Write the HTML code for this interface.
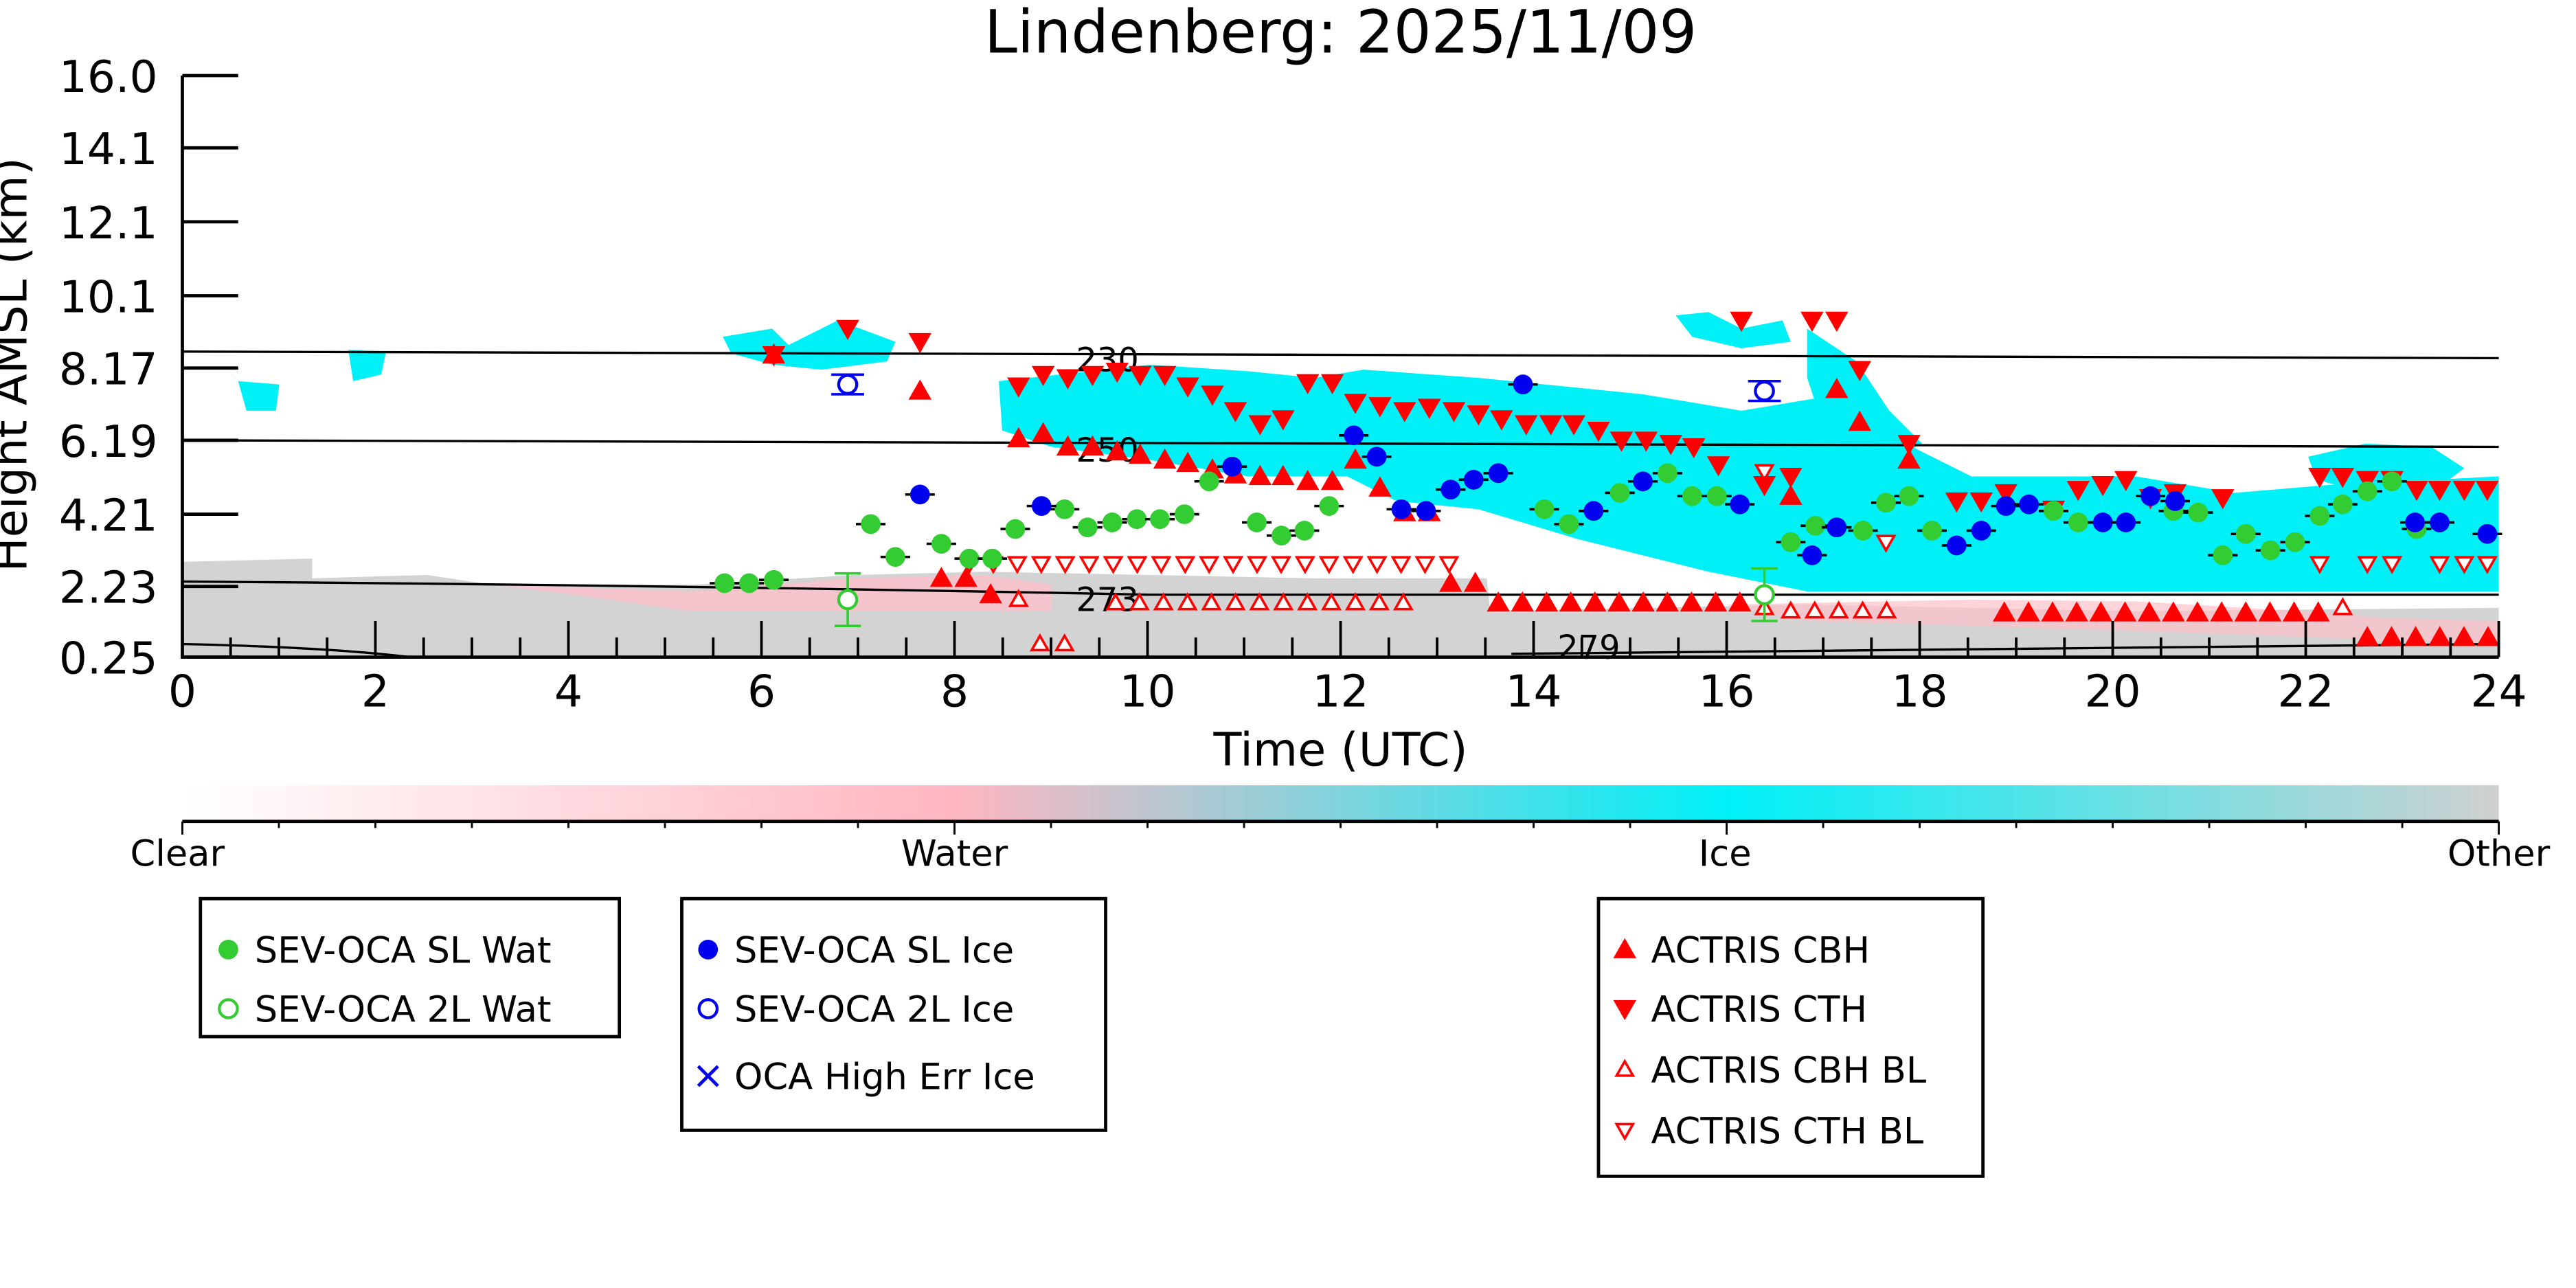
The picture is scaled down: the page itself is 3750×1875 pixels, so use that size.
<!DOCTYPE html>
<html><head><meta charset="utf-8"><style>
html,body{margin:0;padding:0;background:#fff;}
svg{display:block;}
text{font-family:"DejaVu Sans","Liberation Sans",sans-serif;}
</style></head><body>
<svg id="s" width="3750" height="1875" viewBox="0 0 1568 784" xmlns="http://www.w3.org/2000/svg">
<defs>
<linearGradient id="cb" x1="0" x2="1" y1="0" y2="0">
<stop offset="0" stop-color="#ffffff"/><stop offset="0.333" stop-color="#ffb6c1"/>
<stop offset="0.667" stop-color="#00f0f8"/><stop offset="1" stop-color="#d0d0d0"/>
</linearGradient>
</defs>
<rect width="1568" height="784" fill="#fff"/>
<text x="816" y="32" font-size="36" text-anchor="middle">Lindenberg: 2025/11/09</text>
<g>
<polygon fill="#d3d3d3" points="111,342 190,340 190,352 260,350 300,356 420,356 520,350 600,348 700,350 800,352 905,352 910,400 111,400"/>
<polygon fill="#ffc0cb" opacity="0.8" points="300,356 420,360 520,352 600,350 640,356 640,372 520,372 420,372 350,362"/>
<polygon fill="#d3d3d3" points="905,372 1100,368 1300,372 1521,370 1521,400 905,400"/>
<polygon fill="#ffc0cb" opacity="0.7" points="1050,368 1200,365 1300,366 1400,372 1450,376 1521,378 1521,392 1300,384 1100,378"/>
<polygon fill="#00f0f8" points="608,232 700,222 760,226 800,230 830,225 900,230 1000,240 1060,250 1120,240 1160,270 1200,290 1300,290 1360,300 1420,295 1521,290 1521,360 1300,360 1100,360 1040,348 960,328 900,310 850,305 820,290 760,290 700,280 640,272 610,262"/>
<polygon fill="#00f0f8" points="1100,200 1130,220 1150,250 1170,270 1140,285 1110,260 1100,230"/>
<polygon fill="#00f0f8" points="440,205 470,200 480,210 510,195 545,208 540,220 500,225 470,222 445,215"/>
<polygon fill="#00f0f8" points="145,232 170,234 168,250 150,250"/>
<polygon fill="#00f0f8" points="212,213 235,214 232,228 215,232"/>
<polygon fill="#00f0f8" points="1020,192 1040,190 1060,200 1085,195 1090,208 1060,212 1030,205"/>
<polygon fill="#00f0f8" points="1405,278 1440,270 1480,272 1500,285 1480,300 1440,300 1410,292"/>
</g>
<g stroke="#000" stroke-width="1.4" fill="none">
<path d="M111,214 L1521,218"/>
<path d="M111,268 L1521,272"/>
<path d="M111,354 Q400,356 700,362 L1521,362"/>
<path d="M111,392 Q200,394 250,400 M920,398 Q1200,394 1521,392"/>
</g>
<g font-size="20"><text x="655" y="226">230</text><text x="655" y="281">250</text><text x="655" y="372">273</text><text x="948" y="401">279</text></g>
<g id="m"></g>
<g stroke="#000" stroke-width="2" fill="none">
<path d="M111,46 L111,400 L1521,400"/>
</g>
<g id="ax"></g>
<g font-size="27" text-anchor="end">
<text x="96" y="56">16.0</text><text x="96" y="100">14.1</text><text x="96" y="145">12.1</text><text x="96" y="190">10.1</text><text x="96" y="234">8.17</text><text x="96" y="278">6.19</text><text x="96" y="323">4.21</text><text x="96" y="367">2.23</text><text x="96" y="410">0.25</text>
</g>
<text transform="translate(16,222) rotate(-90)" font-size="28" text-anchor="middle">Height AMSL (km)</text>
<g font-size="27" text-anchor="middle">
<text x="111" y="430">0</text><text x="228.5" y="430">2</text><text x="346" y="430">4</text><text x="463.5" y="430">6</text><text x="581" y="430">8</text><text x="698.5" y="430">10</text><text x="816" y="430">12</text><text x="933.5" y="430">14</text><text x="1051" y="430">16</text><text x="1168.5" y="430">18</text><text x="1286" y="430">20</text><text x="1403.5" y="430">22</text><text x="1521" y="430">24</text>
</g>
<text x="816" y="466" font-size="28" text-anchor="middle">Time (UTC)</text>
<rect x="111" y="478" width="1410" height="22" fill="url(#cb)"/>
<line x1="111" y1="500" x2="1521" y2="500" stroke="#000" stroke-width="2"/>
<g id="cbt"></g>
<g font-size="22" text-anchor="middle"><text x="108" y="527">Clear</text><text x="581" y="527">Water</text><text x="1050" y="527">Ice</text><text x="1521" y="527">Other</text></g>
<g fill="none" stroke="#000" stroke-width="2">
<rect x="122" y="547" width="255" height="84"/><rect x="415" y="547" width="258" height="141"/><rect x="973" y="547" width="234" height="169"/>
</g>
<g font-size="22">
<text x="155" y="586">SEV-OCA SL Wat</text><text x="155" y="622">SEV-OCA 2L Wat</text>
<text x="447" y="586">SEV-OCA SL Ice</text><text x="447" y="622">SEV-OCA 2L Ice</text><text x="447" y="663">OCA High Err Ice</text>
<text x="1005" y="586">ACTRIS CBH</text><text x="1005" y="622">ACTRIS CTH</text><text x="1005" y="659">ACTRIS CBH BL</text><text x="1005" y="696">ACTRIS CTH BL</text>
</g>
<g id="lg"></g>
</svg>
<script>
var NS="http://www.w3.org/2000/svg",m=document.getElementById("m");
function el(p,t,a){var e=document.createElementNS(NS,t);for(var k in a)e.setAttribute(k,a[k]);p.appendChild(e);return e;}
function circ(p,x,y,c,open,eb){if(eb){el(p,"line",{x1:x-9,y1:y,x2:x+9,y2:y,stroke:"#000","stroke-width":1.5});}
el(p,"circle",{cx:x,cy:y,r:open?5.5:6,fill:open?"#fff":c,stroke:c,"stroke-width":open?1.8:0});}
function tri(p,x,y,up,open){var s=open?5:7;var d=up?[x,y-s,x-s,y+s*0.75,x+s,y+s*0.75]:[x,y+s,x-s,y-s*0.75,x+s,y-s*0.75];
el(p,"polygon",{points:d.join(","),fill:open?"#fff":"#f00",stroke:"#f00","stroke-width":open?1.5:0});}
var gw=[[441,355],[456,355],[471,353],[530,319],[545,339],[573,331],[590,340],[604,340],[618,322],[648,310],[662,321],[677,318],[692,316],[706,316],[721,313],[736,293],[765,318],[780,326],[794,323],[809,308],[940,310],[955,319],[986,300],[1015,288],[1030,302],[1045,302],[1090,330],[1105,320],[1134,323],[1148,306],[1162,302],[1176,323],[1250,311],[1265,318],[1323,311],[1338,312],[1353,338],[1367,325],[1382,335],[1397,330],[1412,314],[1426,307],[1441,299],[1456,293],[1471,322]];
var bw=[[560,301],[634,308],[750,284],[824,265],[838,278],[853,310],[868,311],[883,298],[897,292],[912,288],[927,234],[970,311],[1000,293],[1059,307],[1103,338],[1118,321],[1191,332],[1206,323],[1221,308],[1235,307],[1280,318],[1294,318],[1309,302],[1324,305],[1470,318],[1485,318],[1514,325]];
var up=[[471,216],[560,238],[620,267],[635,264],[650,272],[665,272],[680,275],[694,277],[709,280],[723,282],[738,286],[752,289],[767,290],[781,290],[796,293],[811,293],[825,280],[840,297],[855,312],[870,312],[573,352],[588,352],[603,362],[883,355],[898,355],[1090,302],[1118,237],[1132,257],[1162,280]];
for(var x=912;x<=1062;x+=14.7)up.push([x,367]);
for(var x=1220;x<=1420;x+=14.7)up.push([x,373]);
for(var x=1441;x<=1515;x+=14.7)up.push([x,388]);
var dn=[[471,216],[516,200],[560,208],[620,235],[635,228],[650,230],[665,228],[680,226],[694,228],[709,228],[723,235],[738,240],[752,250],[767,258],[781,255],[796,233],[811,233],[825,245],[840,247],[855,250],[870,248],[885,250],[900,252],[914,255],[929,258],[944,258],[958,258],[973,262],[987,268],[1002,268],[1017,270],[1031,272],[1046,283],[1060,195],[1074,295],[1090,290],[1103,195],[1118,195],[1132,225],[1162,270],[1191,305],[1206,305],[1221,300],[1250,310],[1265,298],[1280,295],[1294,292],[1309,303],[1324,300],[1353,303],[1412,290],[1426,290],[1441,292],[1456,292],[1471,298],[1485,298],[1500,298],[1514,298]];
var ou=[[620,365],[633,392],[648,392],[1074,370],[1426,370]];
for(var x=679;x<=855;x+=14.6)ou.push([x,367]);
for(var x=1090;x<=1150;x+=14.6)ou.push([x,372]);
var od=[[1074,287],[1148,330],[1412,343],[1441,343],[1456,343],[1485,343],[1500,343],[1514,343]];
for(var x=590;x<=884;x+=14.6)od.push([x,343]);
ou.forEach(function(p){tri(m,p[0],p[1],1,1)});
od.forEach(function(p){tri(m,p[0],p[1],0,1)});
up.forEach(function(p){tri(m,p[0],p[1],1,0)});
dn.forEach(function(p){tri(m,p[0],p[1],0,0)});
gw.forEach(function(p){circ(m,p[0],p[1],"#33cc33",0,1)});
bw.forEach(function(p){circ(m,p[0],p[1],"#0000ee",0,1)});
[[516,365],[1074,362]].forEach(function(p){el(m,"line",{x1:p[0],y1:p[1]-16,x2:p[0],y2:p[1]+16,stroke:"#33cc33","stroke-width":1.5});el(m,"line",{x1:p[0]-8,y1:p[1]-16,x2:p[0]+8,y2:p[1]-16,stroke:"#33cc33","stroke-width":1.5});el(m,"line",{x1:p[0]-8,y1:p[1]+16,x2:p[0]+8,y2:p[1]+16,stroke:"#33cc33","stroke-width":1.5});circ(m,p[0],p[1],"#33cc33",1,0)});
[[516,234],[1074,238]].forEach(function(p){el(m,"line",{x1:p[0]-10,y1:p[1]-6,x2:p[0]+10,y2:p[1]-6,stroke:"#0000ee","stroke-width":1.5});el(m,"line",{x1:p[0]-10,y1:p[1]+6,x2:p[0]+10,y2:p[1]+6,stroke:"#0000ee","stroke-width":1.5});circ(m,p[0],p[1],"#0000ee",1,0)});
var ax=document.getElementById("ax");
[46,90,135,180,224,268,313,357,400].forEach(function(y){el(ax,"line",{x1:111,y1:y,x2:145,y2:y,stroke:"#000","stroke-width":2})});
for(var h=0;h<=48;h++){var x=111+h*29.375;el(ax,"line",{x1:x,y1:400,x2:x,y2:h%4==0?378:388,stroke:"#000","stroke-width":1.6});}
var cbt=document.getElementById("cbt");
for(var i=0;i<=24;i++){var x=111+i*1410/24;el(cbt,"line",{x1:x,y1:500,x2:x,y2:i%8==0?508:504,stroke:"#000","stroke-width":1.2});}
var lg=document.getElementById("lg");
circ(lg,139,578,"#33cc33",0,0);circ(lg,139,614,"#33cc33",1,0);
circ(lg,431,578,"#0000ee",0,0);circ(lg,431,614,"#0000ee",1,0);
el(lg,"path",{d:"M425,649 L437,661 M437,649 L425,661",stroke:"#0000ee","stroke-width":2});
tri(lg,989,578,1,0);tri(lg,989,614,0,0);tri(lg,989,651,1,1);tri(lg,989,688,0,1);
</script>
</body></html>
